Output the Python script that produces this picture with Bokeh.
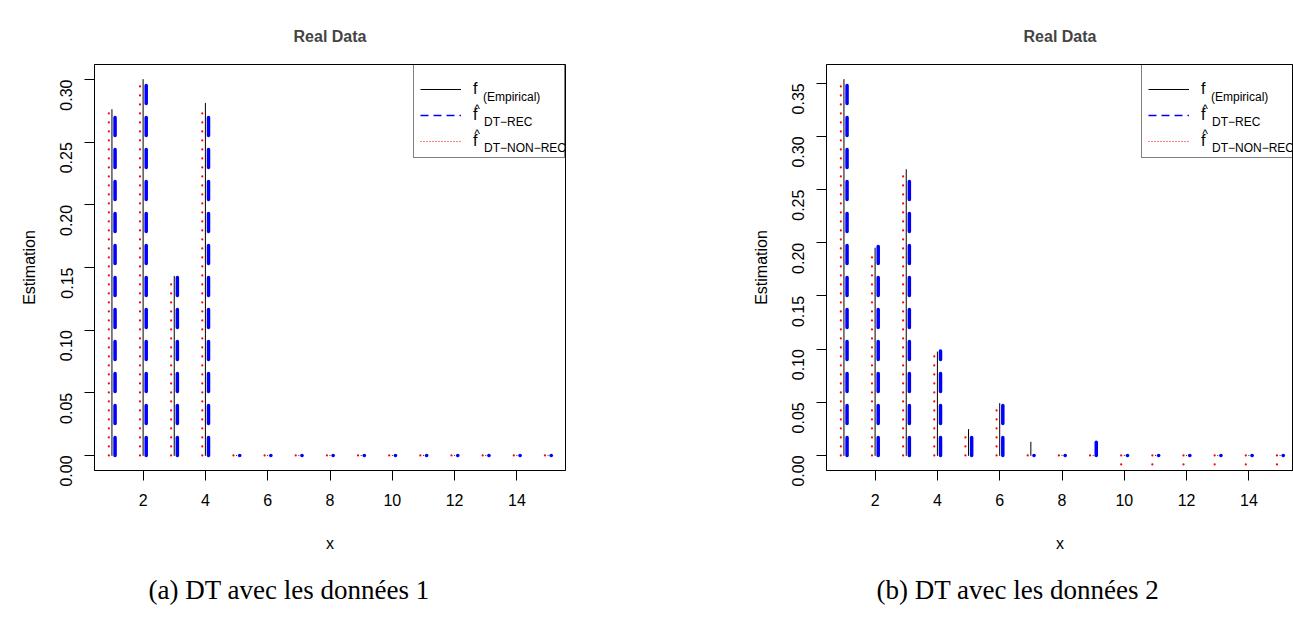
import math
from bokeh.plotting import figure
from bokeh.models import (Range1d, FixedTicker, NumeralTickFormatter, Legend,
                          LegendItem, Label, ColumnDataSource, Title)
from bokeh.layouts import row
from bokeh.transform import dodge
from bokeh.embed import file_html
from bokeh.resources import INLINE

# ---------------- data ----------------
x_values = [1, 2, 3, 4, 5, 6, 7, 8, 9, 10, 11, 12, 13, 14, 15]
x_ticks = [2, 4, 6, 8, 10, 12, 14]

empirical_1 = [0.276, 0.300, 0.143, 0.281, 0, 0, 0, 0, 0, 0, 0, 0, 0, 0, 0]
dt_rec_1 = [0.275, 0.301, 0.144, 0.275, 0, 0, 0, 0, 0, 0, 0, 0, 0, 0, 0]
dt_nonrec_1 = [0.276, 0.298, 0.143, 0.276, 0, 0, 0, 0, 0, 0, 0, 0, 0, 0, 0]
y_ticks_1 = [0.00, 0.05, 0.10, 0.15, 0.20, 0.25, 0.30]

empirical_2 = [0.3535, 0.195, 0.2687, 0.0973, 0.0244, 0.0488, 0.0125, 0, 0, 0, 0, 0, 0, 0, 0]
dt_rec_2 = [0.354, 0.1966, 0.2633, 0.0983, 0.019, 0.049, 0, 0, 0.0125, 0, 0, 0, 0, 0, 0]
dt_nonrec_2 = [0.354, 0.194, 0.268, 0.095, 0.020, 0.045, 0, 0, 0,
               -0.009, -0.009, -0.009, -0.009, -0.009, -0.009]
y_ticks_2 = [0.00, 0.05, 0.10, 0.15, 0.20, 0.25, 0.30, 0.35]

title_text = "Real Data"
x_label = "x"
y_label = "Estimation"
legend_main = ["f", "f", "f"]
legend_sub = ["(Empirical)", "DT\u2212REC", "DT\u2212NON\u2212REC"]
caption_1 = "(a) DT avec les donn\u00e9es 1"
caption_2 = "(b) DT avec les donn\u00e9es 2"

# ---------------- layout constants ----------------
FONT = "Liberation Sans"
H = 623
BORDER_TOP = 64
FRAME_H = 407
BORDER_BOTTOM = H - BORDER_TOP - FRAME_H
REF_FRAME_W = 471
LEGEND_W = 150
NAN = float("nan")


def r_range(vals):
    lo, hi = min(vals), max(vals)
    pad = 0.04 * (hi - lo)
    return lo - pad, hi + pad


def add_label(p, dx, dy_top, text, size, align="left", baseline="alphabetic",
              font=FONT, style="normal"):
    p.add_layout(Label(x=dx, y=FRAME_H - dy_top, x_units="screen", y_units="screen",
                       text=text, text_font=font, text_font_size=f"{size}px",
                       text_align=align, text_baseline=baseline, level="overlay",
                       text_font_style=style, text_color="black"))


def panel(emp, rec, nonrec, yticks, caption, width, left_border, right_border,
          caption_offset):
    frame_w = width - left_border - right_border
    x_lo, x_hi = r_range(x_values)
    x_hi_vis = x_lo + (x_hi - x_lo) * frame_w / REF_FRAME_W
    y_lo, y_hi = r_range(emp)
    p = figure(width=width, height=H, output_backend="svg", toolbar_location=None,
               x_range=Range1d(x_lo, x_hi_vis), y_range=Range1d(y_lo, y_hi),
               min_border_left=left_border, min_border_right=right_border,
               min_border_top=BORDER_TOP, min_border_bottom=BORDER_BOTTOM,
               title=title_text)
    p.title.align = "center"
    p.title.text_font = FONT
    p.title.text_font_size = "16px"
    p.title.text_font_style = "bold"
    p.title.vertical_align = "top"
    p.title.standoff = 35

    p.grid.visible = False
    p.outline_line_color = "black"
    p.outline_line_width = 1
    p.outline_line_alpha = 1
    p.background_fill_color = "white"
    p.border_fill_color = "white"

    p.xaxis.ticker = FixedTicker(ticks=x_ticks)
    p.yaxis.ticker = FixedTicker(ticks=yticks)
    p.yaxis.formatter = NumeralTickFormatter(format="0.00")
    for ax in (p.xaxis, p.yaxis):
        ax.major_tick_out = 10
        ax.major_tick_in = 0
        ax.minor_tick_line_color = None
        ax.axis_line_color = "black"
        ax.major_tick_line_color = "black"
        ax.major_label_text_font = FONT
        ax.major_label_text_font_size = "16px"
        ax.major_label_text_color = "black"
        ax.axis_label_text_font = FONT
        ax.axis_label_text_font_size = "16px"
        ax.axis_label_text_font_style = "normal"
        ax.axis_label_text_color = "black"
    p.yaxis.major_label_orientation = math.pi / 2
    p.xaxis.axis_label = x_label
    p.yaxis.axis_label = y_label
    p.xaxis.major_label_standoff = 13
    p.xaxis.axis_label_standoff = 26
    p.yaxis.major_label_standoff = 18
    p.yaxis.axis_label_standoff = 14

    # caption below the panel
    cap = Title(text=caption, align="left", text_font="Liberation Serif",
                text_font_size="27px", text_font_style="normal", text_color="black",
                offset=caption_offset, standoff=37)
    p.add_layout(cap, "below")

    src = ColumnDataSource(dict(x=x_values, emp=emp, rec=rec, nonrec=nonrec))
    p.segment(x0="x", y0=0, x1="x", y1="emp", source=src,
              line_color="black", line_width=1, line_cap="round")
    p.segment(x0=dodge("x", 0.1), y0=0, x1=dodge("x", 0.1), y1="rec", source=src,
              line_color="#0000FF", line_width=3.5, line_dash="18 14", line_cap="round")
    p.segment(x0=dodge("x", -0.1), y0=0, x1=dodge("x", -0.1), y1="nonrec", source=src,
              line_color="#FF0000", line_width=2.2, line_dash="0 9", line_cap="round")

    # legend swatch renderers (a single missing point: nothing is drawn in the plot)
    l_emp = p.line(x=[NAN], y=[NAN], line_color="black", line_width=1)
    l_rec = p.line(x=[NAN], y=[NAN], line_color="#0000FF", line_width=1.5, line_dash="8 5")
    l_non = p.line(x=[NAN], y=[NAN], line_color="#FF0000", line_width=1, line_dash="1 2")
    legend = Legend(items=[LegendItem(label=legend_main[0], renderers=[l_emp]),
                           LegendItem(label=legend_main[1], renderers=[l_rec]),
                           LegendItem(label=legend_main[2], renderers=[l_non])],
                    location="top_right", orientation="vertical",
                    title=" ", title_text_font_size="6px", title_standoff=2,
                    padding=6, spacing=6, glyph_width=41, glyph_height=20,
                    label_height=20, label_width=85, label_standoff=12,
                    label_text_font=FONT, label_text_font_size="16px",
                    label_text_color="black",
                    border_line_color="black", border_line_width=1,
                    background_fill_alpha=0, margin=0)
    p.add_layout(legend)

    # subscripts and hats of the legend expressions
    lx = frame_w - LEGEND_W
    add_label(p, lx + 67.5, 33, legend_sub[0], 12)
    add_label(p, lx + 61.5, 45, "^", 12, align="center")
    add_label(p, lx + 68.5, 58, legend_sub[1], 12)
    add_label(p, lx + 61.5, 70, "^", 12, align="center")
    add_label(p, lx + 68.5, 84, legend_sub[2], 12)
    return p


p1 = panel(empirical_1, dt_rec_1, dt_nonrec_1, y_ticks_1, caption_1, 646, 94, 81, 54)
p2 = panel(empirical_2, dt_rec_2, dt_nonrec_2, y_ticks_2, caption_2, 647, 180, 0, 50)

layout = row(p1, p2)
open("out.html", "w").write(file_html(layout, INLINE, title="Real Data"))
